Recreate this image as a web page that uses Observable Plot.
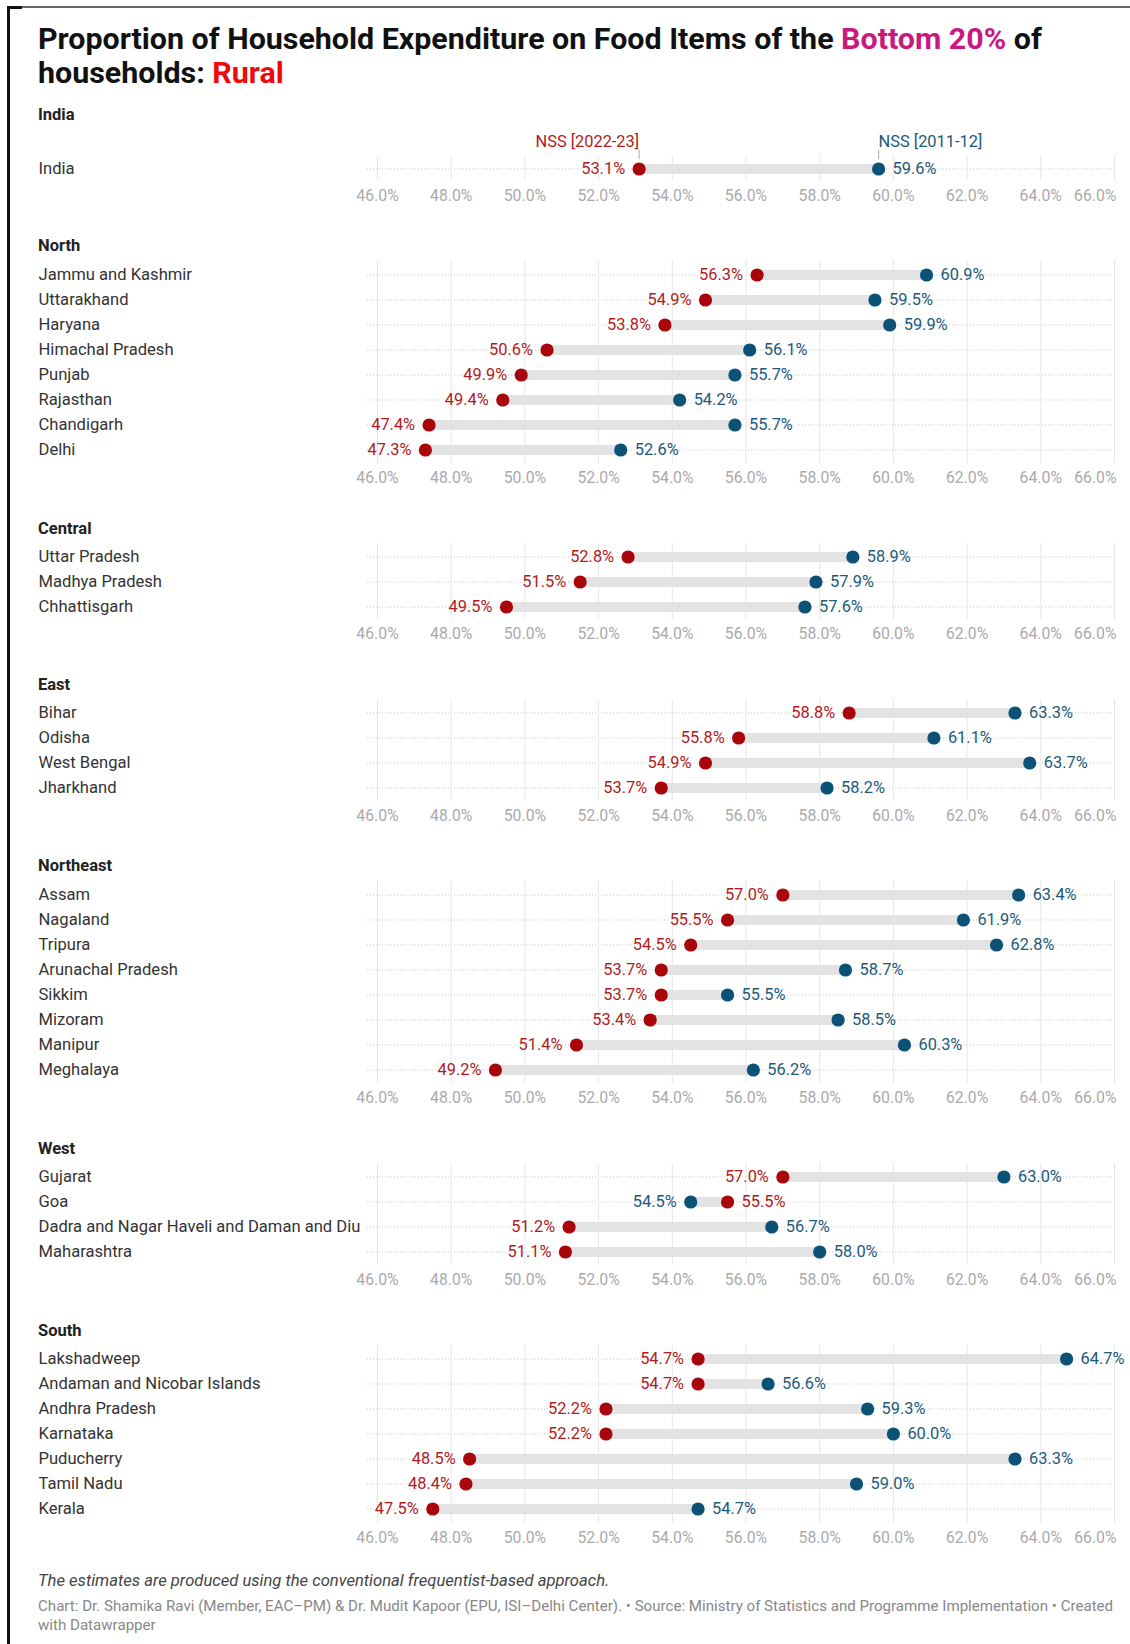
<!DOCTYPE html>
<html><head><meta charset="utf-8">
<script src="https://cdn.jsdelivr.net/npm/d3@7"></script>
<script src="https://cdn.jsdelivr.net/npm/@observablehq/plot@0.6"></script>
<style>
body{margin:0;background:#fff;font-family:Roboto,sans-serif;width:1130px;height:1644px;position:relative;overflow:hidden}
#frameL{position:absolute;left:7px;top:7px;width:3px;bottom:0;background:#111}
#frameT{position:absolute;left:7px;top:6px;right:0;height:1.5px;background:#666}
#frameTL{position:absolute;left:7px;top:6px;width:15px;height:3px;background:#111}
#title{position:absolute;left:38px;top:22px;font-size:30.4px;line-height:34px;font-weight:700;color:#111;width:1085px}
#title div{white-space:nowrap}
#chart{position:absolute;left:0;top:104.5px}
.hdr{margin-left:38px;font-weight:700;font-size:16.5px;line-height:20px;height:20px;color:#222}
.block{margin-bottom:25.8px}
svg{display:block}
#note{position:absolute;left:38px;top:1571px;font-size:16.6px;line-height:20px;font-style:italic;color:#444}
#source{position:absolute;left:38px;top:1596.5px;font-size:15.1px;line-height:19px;color:#888;white-space:nowrap}
#source div{white-space:nowrap}
</style></head>
<body>
<div id="frameL"></div><div id="frameT"></div><div id="frameTL"></div>
<div id="title">
  <div><span>Proportion of Household Expenditure on Food Items of the </span><span style="color:#c8197f">Bottom 20%</span><span> of</span></div>
  <div><span>households: </span><span style="color:#ee0a0a">Rural</span></div>
</div>
<div id="chart"></div>
<div id="note">The estimates are produced using the conventional frequentist-based approach.</div>
<div id="source">
  <div>Chart: Dr. Shamika Ravi (Member, EAC–PM) &amp; Dr. Mudit Kapoor (EPU, ISI–Delhi Center). • Source: Ministry of Statistics and Programme Implementation • Created</div>
  <div>with Datawrapper</div>
</div>
<script>
// ---- data ----
const regionNames = ["India", "North", "Central", "East", "Northeast", "West", "South"];
const regionOfRow = [
  "India",
  "North","North","North","North","North","North","North","North",
  "Central","Central","Central",
  "East","East","East","East",
  "Northeast","Northeast","Northeast","Northeast","Northeast","Northeast","Northeast","Northeast",
  "West","West","West","West",
  "South","South","South","South","South","South","South"
];
const states = [
  "India",
  "Jammu and Kashmir","Uttarakhand","Haryana","Himachal Pradesh","Punjab","Rajasthan","Chandigarh","Delhi",
  "Uttar Pradesh","Madhya Pradesh","Chhattisgarh",
  "Bihar","Odisha","West Bengal","Jharkhand",
  "Assam","Nagaland","Tripura","Arunachal Pradesh","Sikkim","Mizoram","Manipur","Meghalaya",
  "Gujarat","Goa","Dadra and Nagar Haveli and Daman and Diu","Maharashtra",
  "Lakshadweep","Andaman and Nicobar Islands","Andhra Pradesh","Karnataka","Puducherry","Tamil Nadu","Kerala"
];
const nss2022 = [
  53.1,
  56.3,54.9,53.8,50.6,49.9,49.4,47.4,47.3,
  52.8,51.5,49.5,
  58.8,55.8,54.9,53.7,
  57.0,55.5,54.5,53.7,53.7,53.4,51.4,49.2,
  57.0,55.5,51.2,51.1,
  54.7,54.7,52.2,52.2,48.5,48.4,47.5
];
const nss2011 = [
  59.6,
  60.9,59.5,59.9,56.1,55.7,54.2,55.7,52.6,
  58.9,57.9,57.6,
  63.3,61.1,63.7,58.2,
  63.4,61.9,62.8,58.7,55.5,58.5,60.3,56.2,
  63.0,54.5,56.7,58.0,
  64.7,56.6,59.3,60.0,63.3,59.0,54.7
];
const xTicks = [46,48,50,52,54,56,58,60,62,64];
const xLastTick = [66];
const seriesLabels = ["NSS [2022-23]", "NSS [2011-12]"];

// ---- styles ----
const RED = "#a8060b", RED_T = "#b01c1c";
const BLUE = "#0b5276", BLUE_T = "#1c5a7b";
const BAND = 25.4;
const fmt = d => d.toFixed(1) + "%";

const rows = states.map((s, i) => ({region: regionOfRow[i], state: s, v22: nss2022[i], v11: nss2011[i]}));

function makePlot(data, mt, isIndia) {
  const marks = [
    Plot.gridY({stroke: "#c8c8c8", strokeOpacity: 1, strokeDasharray: "1,2"}),
    Plot.gridX(xTicks.concat(xLastTick), {stroke: "#e6e6e6", strokeOpacity: 1}),
    Plot.ruleY(data, {y: "state", x1: "v22", x2: "v11", stroke: "#e3e3e3", strokeWidth: 10}),
    Plot.dot(data, {y: "state", x: "v11", r: 6.6, fill: BLUE}),
    Plot.dot(data, {y: "state", x: "v22", r: 6.6, fill: RED}),
    Plot.text(data, {y: "state", x: d => Math.min(d.v22, d.v11), text: d => fmt(Math.min(d.v22, d.v11)),
      textAnchor: "end", dx: -14, fontSize: 16.4, fill: d => d.v22 <= d.v11 ? RED_T : BLUE_T}),
    Plot.text(data, {y: "state", x: d => Math.max(d.v22, d.v11), text: d => fmt(Math.max(d.v22, d.v11)),
      textAnchor: "start", dx: 14, fontSize: 16.4, fill: d => d.v22 <= d.v11 ? BLUE_T : RED_T}),
    Plot.axisY({tickSize: 0, tickPadding: 0, textAnchor: "start", dx: -329, fontSize: 16.6, fill: "#333", label: null}),
    Plot.axisX(xTicks, {tickSize: 0, tickPadding: 8.5, tickFormat: fmt, fontSize: 15.8, fill: "#aaa", label: null}),
    Plot.axisX(xLastTick, {tickSize: 0, tickPadding: 8.5, tickFormat: fmt, fontSize: 15.8, fill: "#aaa", textAnchor: "end", dx: 2, label: null})
  ];
  if (isIndia) {
    marks.push(
      Plot.tickX(data, {y: "state", x: "v22", dy: -15, insetTop: 8.7, insetBottom: 6.7, stroke: "#aaa"}),
      Plot.tickX(data, {y: "state", x: "v11", dy: -15, insetTop: 8.7, insetBottom: 6.7, stroke: "#aaa"}),
      Plot.text(data, {y: "state", x: "v22", text: () => seriesLabels[0], textAnchor: "end", dy: -27, fontSize: 16.4, fill: RED_T}),
      Plot.text(data, {y: "state", x: "v11", text: () => seriesLabels[1], textAnchor: "start", dy: -27, fontSize: 16.4, fill: BLUE_T})
    );
  }
  return Plot.plot({
    width: 1130,
    height: mt + data.length * BAND + 30,
    marginLeft: 367, marginRight: 14, marginTop: mt, marginBottom: 30,
    x: {domain: [46, 66], range: [377, 1114]},
    y: {type: "band", domain: data.map(d => d.state), padding: 0},
    style: {fontFamily: "Roboto, sans-serif", fontSize: "16px", background: "transparent", overflow: "visible"},
    marks
  });
}

const chart = document.getElementById("chart");
for (const r of regionNames) {
  const block = document.createElement("div");
  block.className = "block";
  const h = document.createElement("div");
  h.className = "hdr";
  h.textContent = r;
  block.appendChild(h);
  const data = rows.filter(d => d.region === r);
  block.appendChild(makePlot(data, r === "India" ? 30.3 : 4, r === "India"));
  chart.appendChild(block);
}
</script>
</body></html>
